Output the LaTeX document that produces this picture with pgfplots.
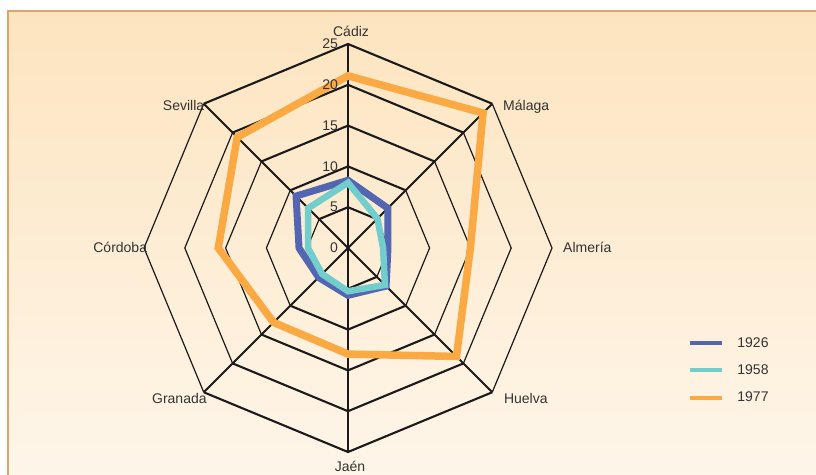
\documentclass[border=0pt]{standalone}
\usepackage{pgfplots}
\pgfplotsset{compat=1.18}
\usepackage{fontspec}
\setmainfont{Liberation Sans}
\definecolor{cA}{HTML}{5366B1}
\definecolor{cB}{HTML}{72CDCD}
\definecolor{cC}{HTML}{FAA943}
\definecolor{bgtop}{HTML}{FDE4BF}
\definecolor{bgbot}{HTML}{FEF6EA}
\definecolor{brd}{HTML}{DCA56E}
\definecolor{txt}{HTML}{333333}
\definecolor{grd}{HTML}{1A1A1A}
\newcommand\lf{\fontsize{14}{16}\selectfont}
\begin{document}
\begin{tikzpicture}
\useasboundingbox (0pt,0pt) rectangle (816pt,474pt);
\begin{scope}
\clip (0pt,0pt) rectangle (816pt,474pt);
\fill[white] (0pt,0pt) rectangle (816pt,474pt);
\shade[top color=bgtop, bottom color=bgbot] (8pt,-10pt) rectangle (830pt,463pt);
\draw[brd, line width=2.2pt] (8pt,-10pt) -- (8pt,463pt) -- (830pt,463pt);
\begin{axis}[
  anchor=south west, at={(144pt,22pt)},
  x=8.16pt, y=8.16pt,
  xmin=-25, xmax=25, ymin=-25, ymax=25,
  hide axis, clip=false,
  legend style={draw=none, fill=none, at={(axis cs:41.6,-15.0)}, anchor=west,
    font=\lf, text=txt, row sep=12pt, inner sep=0pt},
  legend cell align=left,
  legend image code/.code={\draw[#1, line width=4pt, line cap=butt] (0pt,0pt) -- (32pt,0pt); \path (42pt,0pt);},
]
% spokes
\addplot[grd, line width=2.6pt, data cs=polar, forget plot] coordinates {(90,25)(90,0)(270,25)};
\addplot[grd, line width=1.8pt, data cs=polar, forget plot] coordinates {(45,25)(45,0)(225,25)};
\addplot[grd, line width=1.8pt, data cs=polar, forget plot] coordinates {(135,25)(135,0)(315,25)};
% rings
\pgfplotsinvokeforeach{5,10,15,20,25}{
  \addplot[grd, line width=2.1pt, data cs=polar, forget plot, line join=miter] coordinates {(135,#1)(90,#1)(45,#1)};
  \addplot[grd, line width=2.1pt, data cs=polar, forget plot, line join=miter] coordinates {(-45,#1)(-90,#1)(-135,#1)};
  \addplot[grd, line width=1.2pt, data cs=polar, forget plot, line join=miter] coordinates {(45,#1)(0,#1)(-45,#1)};
  \addplot[grd, line width=1.2pt, data cs=polar, forget plot, line join=miter] coordinates {(135,#1)(180,#1)(225,#1)};
}
% series
\addplot[cA, line width=7pt, data cs=polar] coordinates {(90,8.3)(45,6.9)(0,4.9)(-45,6.6)(-90,5.8)(-135,5.1)(180,6.0)(135,9.0)} -- cycle;
\addlegendentry{1926}
\addplot[cB, line width=6.5pt, data cs=polar] coordinates {(90,8.0)(45,5.1)(0,4.3)(-45,6.4)(-90,5.3)(-135,4.5)(180,4.9)(135,6.9)} -- cycle;
\addlegendentry{1958}
\addplot[cC, line width=7.5pt, data cs=polar] coordinates {(90,21.1)(45,23.4)(0,15.0)(-45,18.8)(-90,13.0)(-135,12.9)(180,15.9)(135,19.2)} -- cycle;
\addlegendentry{1977}
% value labels
\pgfplotsinvokeforeach{0,5,10,15,20,25}{
  \node[anchor=east, inner sep=0pt, font=\lf, text=txt] at (axis cs:-1.2,#1) {#1};
}
% category labels
\node[anchor=base, inner sep=0pt, font=\lf, text=txt] at (axis cs:0.37,25.86) {Cádiz};
\node[anchor=base west, inner sep=0pt, font=\lf, text=txt] at (axis cs:19.0,16.8) {Málaga};
\node[anchor=base west, inner sep=0pt, font=\lf, text=txt] at (axis cs:26.35,-0.61) {Almería};
\node[anchor=base west, inner sep=0pt, font=\lf, text=txt] at (axis cs:19.1,-19.0) {Huelva};
\node[anchor=base, inner sep=0pt, font=\lf, text=txt] at (axis cs:0.25,-27.45) {Jaén};
\node[anchor=base east, inner sep=0pt, font=\lf, text=txt] at (axis cs:-17.3,-19.0) {Granada};
\node[anchor=base east, inner sep=0pt, font=\lf, text=txt] at (axis cs:-24.6,-0.61) {Córdoba};
\node[anchor=base east, inner sep=0pt, font=\lf, text=txt] at (axis cs:-17.6,16.8) {Sevilla};
\end{axis}
\end{scope}
\end{tikzpicture}
\end{document}
